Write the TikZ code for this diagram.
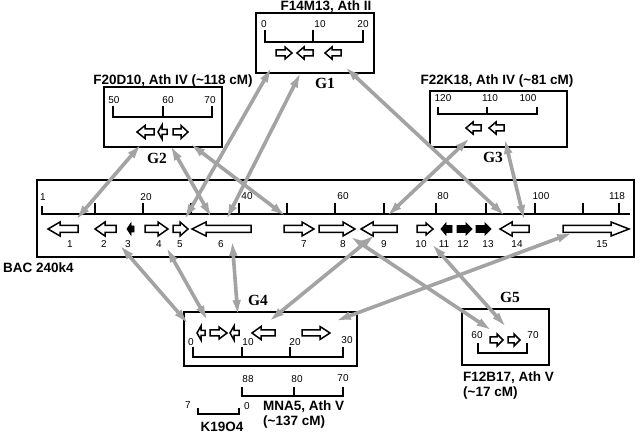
\documentclass[tikz,border=0pt]{standalone}
\usepackage{fontspec}
\setmainfont{Liberation Sans}
\newfontfamily\serifG{Liberation Serif}
\usetikzlibrary{arrows.meta}
% right-pointing gene: tail x1, tip x2
\newcommand{\geneR}[7][genebox]{\draw[#1] (#2,{#4-#7}) -- ({#3-#5},{#4-#7}) -- ({#3-#5},{#4-#6}) -- (#3,#4) -- ({#3-#5},{#4+#6}) -- ({#3-#5},{#4+#7}) -- (#2,{#4+#7}) -- cycle;}
% left-pointing gene: tip x1, tail x2
\newcommand{\geneL}[7][genebox]{\draw[#1] (#3,{#4-#7}) -- ({#2+#5},{#4-#7}) -- ({#2+#5},{#4-#6}) -- (#2,#4) -- ({#2+#5},{#4+#6}) -- ({#2+#5},{#4+#7}) -- (#3,{#4+#7}) -- cycle;}
\tikzset{
 genebox/.style={draw=black, line width=1.5pt, fill=white, line join=miter},
 geneblk/.style={draw=black, line width=0.8pt, fill=black, line join=miter},
 frame/.style={draw=black, line width=1.4pt},
 rule/.style={draw=black, line width=1.3pt},
 ticklbl/.style={font=\fontsize{10}{11}\selectfont, inner sep=0pt},
 title/.style={font=\bfseries\fontsize{13.5}{14}\selectfont, inner sep=0pt},
 glbl/.style={font=\serifG\bfseries\fontsize{15.5}{16}\selectfont, inner sep=0pt},
 conn/.style={draw=black!36, line width=3.6pt, {Latex[length=18pt,width=8.5pt]}-{Latex[length=18pt,width=8.5pt]}},
}
\begin{document}
\begin{tikzpicture}[x=1pt,y=-1pt]
\useasboundingbox (0,0) rectangle (640,435);
\fill[white] (0,0) rectangle (640,435);

% ===== BAC 240k4 =====
\draw[frame] (37,180) rectangle (634,257);
\draw[rule] (42,206) -- (42,214) -- (630,214);
\foreach \x in {95,143,191,239,287,335,384,436,486,535,583,619} \draw[rule] (\x,214) -- (\x,203);
\node[ticklbl] (b1) at (43,197) {1};
\node[ticklbl] (b20) at (146,197) {20};
\node[ticklbl] (b40) at (247,196) {40};
\node[ticklbl] (b60) at (343,196) {60};
\node[ticklbl] (b80) at (443,196) {80};
\node[ticklbl] (b100) at (541,196) {100};
\node[ticklbl] (b118) at (617,196) {118};
\node[title,anchor=west] (bac) at (3,268) {BAC 240k4};

\geneL{48}{78}{229}{12}{7}{3.5}
\geneL{95}{116}{229}{10}{7}{3.5}
\geneL[geneblk]{127}{134}{229}{4}{6}{3}
\geneR{145}{168}{229}{10}{7}{3.5}
\geneR{173}{188}{229}{8}{7}{3.5}
\geneL{192}{251}{229}{14}{7}{3.5}
\geneR{284}{314}{229}{12}{7}{3.5}
\geneR{319}{355}{229}{12}{7}{3.5}
\geneL{361}{397}{229}{12}{7}{3.5}
\geneR{417}{433}{229}{7}{6}{3.5}
\geneL[geneblk]{441}{452}{229}{5}{6}{3.5}
\geneR[geneblk]{457}{472}{229}{6}{6}{3.5}
\geneR[geneblk]{476}{491}{229}{6}{6}{3.5}
\geneL{500}{529}{229}{12}{7}{3.5}
\geneR{563}{629}{229}{18}{7}{3.5}

\foreach \n/\x in {1/70,2/104,3/128,4/159,5/180,6/221,7/304,8/343,9/384,10/421,11/444,12/463,13/488,14/517,15/602}
  \node[ticklbl] (n\n) at (\x,244) {\n};

% ===== G1 =====
\draw[frame] (256,13) rectangle (374,73);
\node[title] (t1) at (326,7) {F14M13, Ath II};
\draw[rule] (265,30) -- (265,42) -- (363,42) -- (363,30);
\draw[rule] (313,42) -- (313,30);
\node[ticklbl] (g1l0) at (264,24) {0};
\node[ticklbl] (g1l10) at (320,24) {10};
\node[ticklbl] (g1l20) at (363,24) {20};
\geneR{276}{292}{53}{7}{6}{3}
\geneL{297}{313}{53}{7}{6}{3}
\geneL{325}{341}{53}{7}{6}{3}
\node[glbl] (G1) at (325,83) {G1};

% ===== G2 =====
\draw[frame] (104,87) rectangle (222,147);
\node[title] (t2) at (173,81) {F20D10, Ath IV (\textasciitilde118 cM)};
\draw[rule] (113,106) -- (113,117) -- (212,117) -- (212,106);
\draw[rule] (163,117) -- (163,106);
\node[ticklbl] (g2l50) at (114,100) {50};
\node[ticklbl] (g2l60) at (168,100) {60};
\node[ticklbl] (g2l70) at (210,100) {70};
\geneL{137}{154}{132}{8}{6.5}{3}
\geneL{158}{167}{132}{4}{7}{2.5}
\geneR{173}{188}{132}{7}{6.5}{3}
\node[glbl] (G2) at (157,158) {G2};

% ===== G3 =====
\draw[frame] (430,91) rectangle (567,147);
\node[title] (t3) at (497,81) {F22K18, Ath IV (\textasciitilde81 cM)};
\draw[rule] (438,107) -- (438,114) -- (537,114) -- (537,107);
\draw[rule] (487,114) -- (487,107);
\node[ticklbl] (g3l120) at (443,98) {120};
\node[ticklbl] (g3l110) at (490,98) {110};
\node[ticklbl] (g3l100) at (528,98) {100};
\geneL{466}{481}{128}{7}{6}{3}
\geneL{489}{504}{128}{7}{6}{3}
\node[glbl] (G3) at (493,157) {G3};

% ===== G4 =====
\draw[frame] (184,312) rectangle (357,366);
\draw[rule] (193,347) -- (193,357) -- (343,357) -- (343,347);
\draw[rule] (242,357) -- (242,347);
\draw[rule] (290,357) -- (290,347);
\node[ticklbl] (g4l0) at (191,342) {0};
\node[ticklbl] (g4l10) at (248,342) {10};
\node[ticklbl] (g4l20) at (295,342) {20};
\node[ticklbl] (g4l30) at (347,340) {30};
\geneL{197}{205}{333}{4}{7}{2.5}
\geneR{210}{227}{333}{8}{6}{3}
\geneL{230}{239}{333}{4}{7}{2.5}
\geneL{252}{275}{333}{9}{6.5}{3}
\geneR{302}{330}{333}{10}{6.5}{3}
\node[glbl] (G4) at (258,300) {G4};

% MNA5 scale
\draw[rule] (242,387) -- (242,396) -- (343,396) -- (343,387);
\draw[rule] (294,396) -- (294,387);
\node[ticklbl] (m88) at (248,379) {88};
\node[ticklbl] (m80) at (297,379) {80};
\node[ticklbl] (m70) at (343,378) {70};
\node[title,anchor=west] (t4a) at (263,407) {MNA5, Ath V};
\node[title,anchor=west] (t4b) at (263,422) {(\textasciitilde137 cM)};

% K19O4 scale
\draw[rule] (198,408) -- (198,414) -- (239,414) -- (239,408);
\node[ticklbl] (k7) at (188,405) {7};
\node[ticklbl] (k0) at (247,406) {0};
\node[title] (k19) at (222,427) {K19O4};

% ===== G5 =====
\draw[frame] (462,309) rectangle (549,365);
\draw[rule] (478,343) -- (478,353) -- (527,353) -- (527,343);
\node[ticklbl] (g5l60) at (477,335) {60};
\node[ticklbl] (g5l70) at (533,335) {70};
\geneR{490}{503}{340}{6}{6}{3}
\geneR{508}{520}{340}{6}{6}{3}
\node[glbl] (G5) at (510,297) {G5};
\node[title,anchor=west] (t5a) at (463,378) {F12B17, Ath V};
\node[title,anchor=west] (t5b) at (463,393) {(\textasciitilde17 cM)};

% ===== connectors =====
\coordinate (c1a) at (143,142); \coordinate (c1b) at (74,222);
\coordinate (c2a) at (169,143); \coordinate (c2b) at (213,220);
\coordinate (c3a) at (188,142); \coordinate (c3b) at (288,218);
\coordinate (c4a) at (273,65);  \coordinate (c4b) at (183,222);
\coordinate (c5a) at (302,70);  \coordinate (c5b) at (225,222);
\coordinate (c6a) at (343,65);  \coordinate (c6b) at (507,218);
\coordinate (c7a) at (472,136); \coordinate (c7b) at (385,218);
\coordinate (c8a) at (504,136); \coordinate (c8b) at (525,223);
\coordinate (c9a) at (118,243); \coordinate (c9b) at (190,326);
\coordinate (c10a) at (165,245); \coordinate (c10b) at (209,323);
\coordinate (c11a) at (232,238); \coordinate (c11b) at (238,318);
\coordinate (c12a) at (377,233); \coordinate (c12b) at (267,323);
\coordinate (c13a) at (575,232); \coordinate (c13b) at (333,322);
\coordinate (c14a) at (348,235); \coordinate (c14b) at (494,332);
\coordinate (c15a) at (430,242); \coordinate (c15b) at (508,329);
\foreach \i in {1,...,15} \draw[conn] (c\i a) -- (c\i b);
\end{tikzpicture}
\end{document}
